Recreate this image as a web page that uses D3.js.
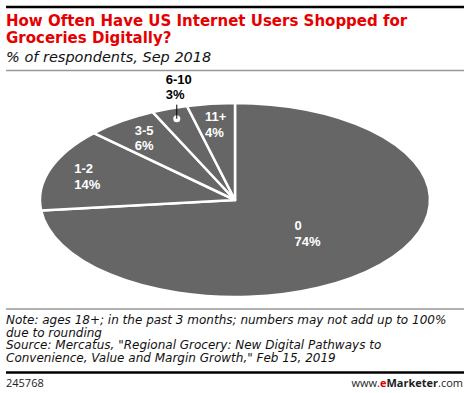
<!DOCTYPE html>
<html>
<head>
<meta charset="utf-8">
<script src="https://cdn.jsdelivr.net/npm/d3@7"></script>
<style>
  body { margin: 0; background: #fff; }
  svg { display: block; }
  text { font-family: "Open Sans", "Liberation Sans", sans-serif; }
  .wide { font-family: "DejaVu Sans", "Open Sans", sans-serif; }
  .lbl { font-family: "Liberation Sans", Arial, sans-serif; }
</style>
</head>
<body>
<div id="chart"></div>
<script>
// shopping frequency (past 3 months) and share of respondents
const categories = ["0", "1-2", "3-5", "6-10", "11+"];
const shares = [74, 14, 6, 3, 4];

const titleLines = ["How Often Have US Internet Users Shopped for", "Groceries Digitally?"];
const subtitle = "% of respondents, Sep 2018";
const noteLines = [
  "Note: ages 18+; in the past 3 months; numbers may not add up to 100%",
  "due to rounding",
  "Source: Mercatus, \"Regional Grocery: New Digital Pathways to",
  "Convenience, Value and Margin Growth,\" Feb 15, 2019"
];
const chartId = "245768";

const W = 470, H = 393;
const svg = d3.select("#chart").append("svg")
  .attr("width", W).attr("height", H);

// header rules + titles
svg.append("line").attr("x1", 6).attr("x2", 464).attr("y1", 7).attr("y2", 7)
  .attr("stroke", "#000").attr("stroke-width", 2.5);

svg.selectAll(".title").data(titleLines).enter().append("text")
  .attr("class", "title wide")
  .attr("x", 6).attr("y", (d, i) => 26 + i * 17)
  .attr("fill", "#e60000").attr("font-weight", 700).attr("font-size", 15)
  .text(d => d);

svg.append("text").attr("class", "wide").attr("x", 6).attr("y", 62)
  .attr("font-style", "italic").attr("font-size", 14.5).attr("fill", "#111")
  .text(subtitle);

svg.append("line").attr("x1", 6).attr("x2", 464).attr("y1", 70.5).attr("y2", 70.5)
  .attr("stroke", "#999").attr("stroke-width", 1.5);

// pie drawn on a circle, then stretched into an ellipse
const cx = 235, cy = 200, rx = 195, ry = 97;
const sx = rx / ry;

const pie = d3.pie().sort(null).value(d => d.v);
const slices = pie(categories.map((c, i) => ({ c: c, v: shares[i] })));
const arc = d3.arc().innerRadius(0).outerRadius(ry);

const g = svg.append("g").attr("transform", `translate(${cx},${cy})`);
g.append("g").attr("transform", `scale(${sx},1)`)
  .selectAll("path").data(slices).enter().append("path")
  .attr("d", arc)
  .attr("fill", "#666666")
  .attr("stroke", "#fff")
  .attr("stroke-width", 2.5)
  .attr("stroke-linejoin", "round")
  .attr("vector-effect", "non-scaling-stroke");

// label helpers
function pointAt(angle, f) {
  return [Math.sin(angle) * rx * f, -Math.cos(angle) * ry * f];
}

function labelBlock(parent, lines, x, y, color) {
  const t = parent.append("g");
  const texts = lines.map((s, i) => t.append("text")
    .attr("class", "lbl")
    .attr("y", y + i * 15.5)
    .attr("fill", color).attr("font-weight", 700).attr("font-size", 13)
    .text(s));
  const wMax = d3.max(texts, n => n.node().getComputedTextLength());
  texts.forEach(n => n.attr("x", x - wMax / 2));
  return t;
}

slices.forEach((s, i) => {
  const mid = (s.startAngle + s.endAngle) / 2;
  const lines = [s.data.c, s.data.v + "%"];
  if (s.data.v < 4) {
    // small slice: label outside with a leader and dot
    const [px, py] = pointAt(mid, 0.89);
    g.append("circle").attr("cx", px).attr("cy", py).attr("r", 3.5).attr("fill", "#fff");
    g.append("line").attr("x1", px).attr("x2", px).attr("y1", py).attr("y2", py - 14)
      .attr("stroke", "#000").attr("stroke-width", 1);
    labelBlock(g, lines, px + 2, py - 35, "#000");
  } else {
    const f = i === 0 ? 0.5 : 0.8;
    const [px, py] = pointAt(mid, f);
    labelBlock(g, lines, px, py - 2, "#fff");
  }
});

// footer
svg.append("line").attr("x1", 6).attr("x2", 464).attr("y1", 309).attr("y2", 309)
  .attr("stroke", "#999").attr("stroke-width", 1.5);

svg.selectAll(".note").data(noteLines).enter().append("text")
  .attr("class", "note wide")
  .attr("x", 6).attr("y", (d, i) => 324 + i * 12.7)
  .attr("font-style", "italic").attr("font-size", 12).attr("fill", "#111")
  .text(d => d);

svg.append("line").attr("x1", 6).attr("x2", 464).attr("y1", 372.5).attr("y2", 372.5)
  .attr("stroke", "#000").attr("stroke-width", 2.5);

svg.append("text").attr("x", 6).attr("y", 387)
  .attr("font-size", 11).attr("fill", "#222").text(chartId);

const brand = svg.append("text").attr("x", 463).attr("y", 387)
  .attr("text-anchor", "end").attr("font-size", 11).attr("fill", "#222");
brand.append("tspan").text("www.");
brand.append("tspan").attr("fill", "#e60000").attr("font-weight", 700).text("e");
brand.append("tspan").attr("font-weight", 700).text("Marketer");
brand.append("tspan").text(".com");
</script>
</body>
</html>
